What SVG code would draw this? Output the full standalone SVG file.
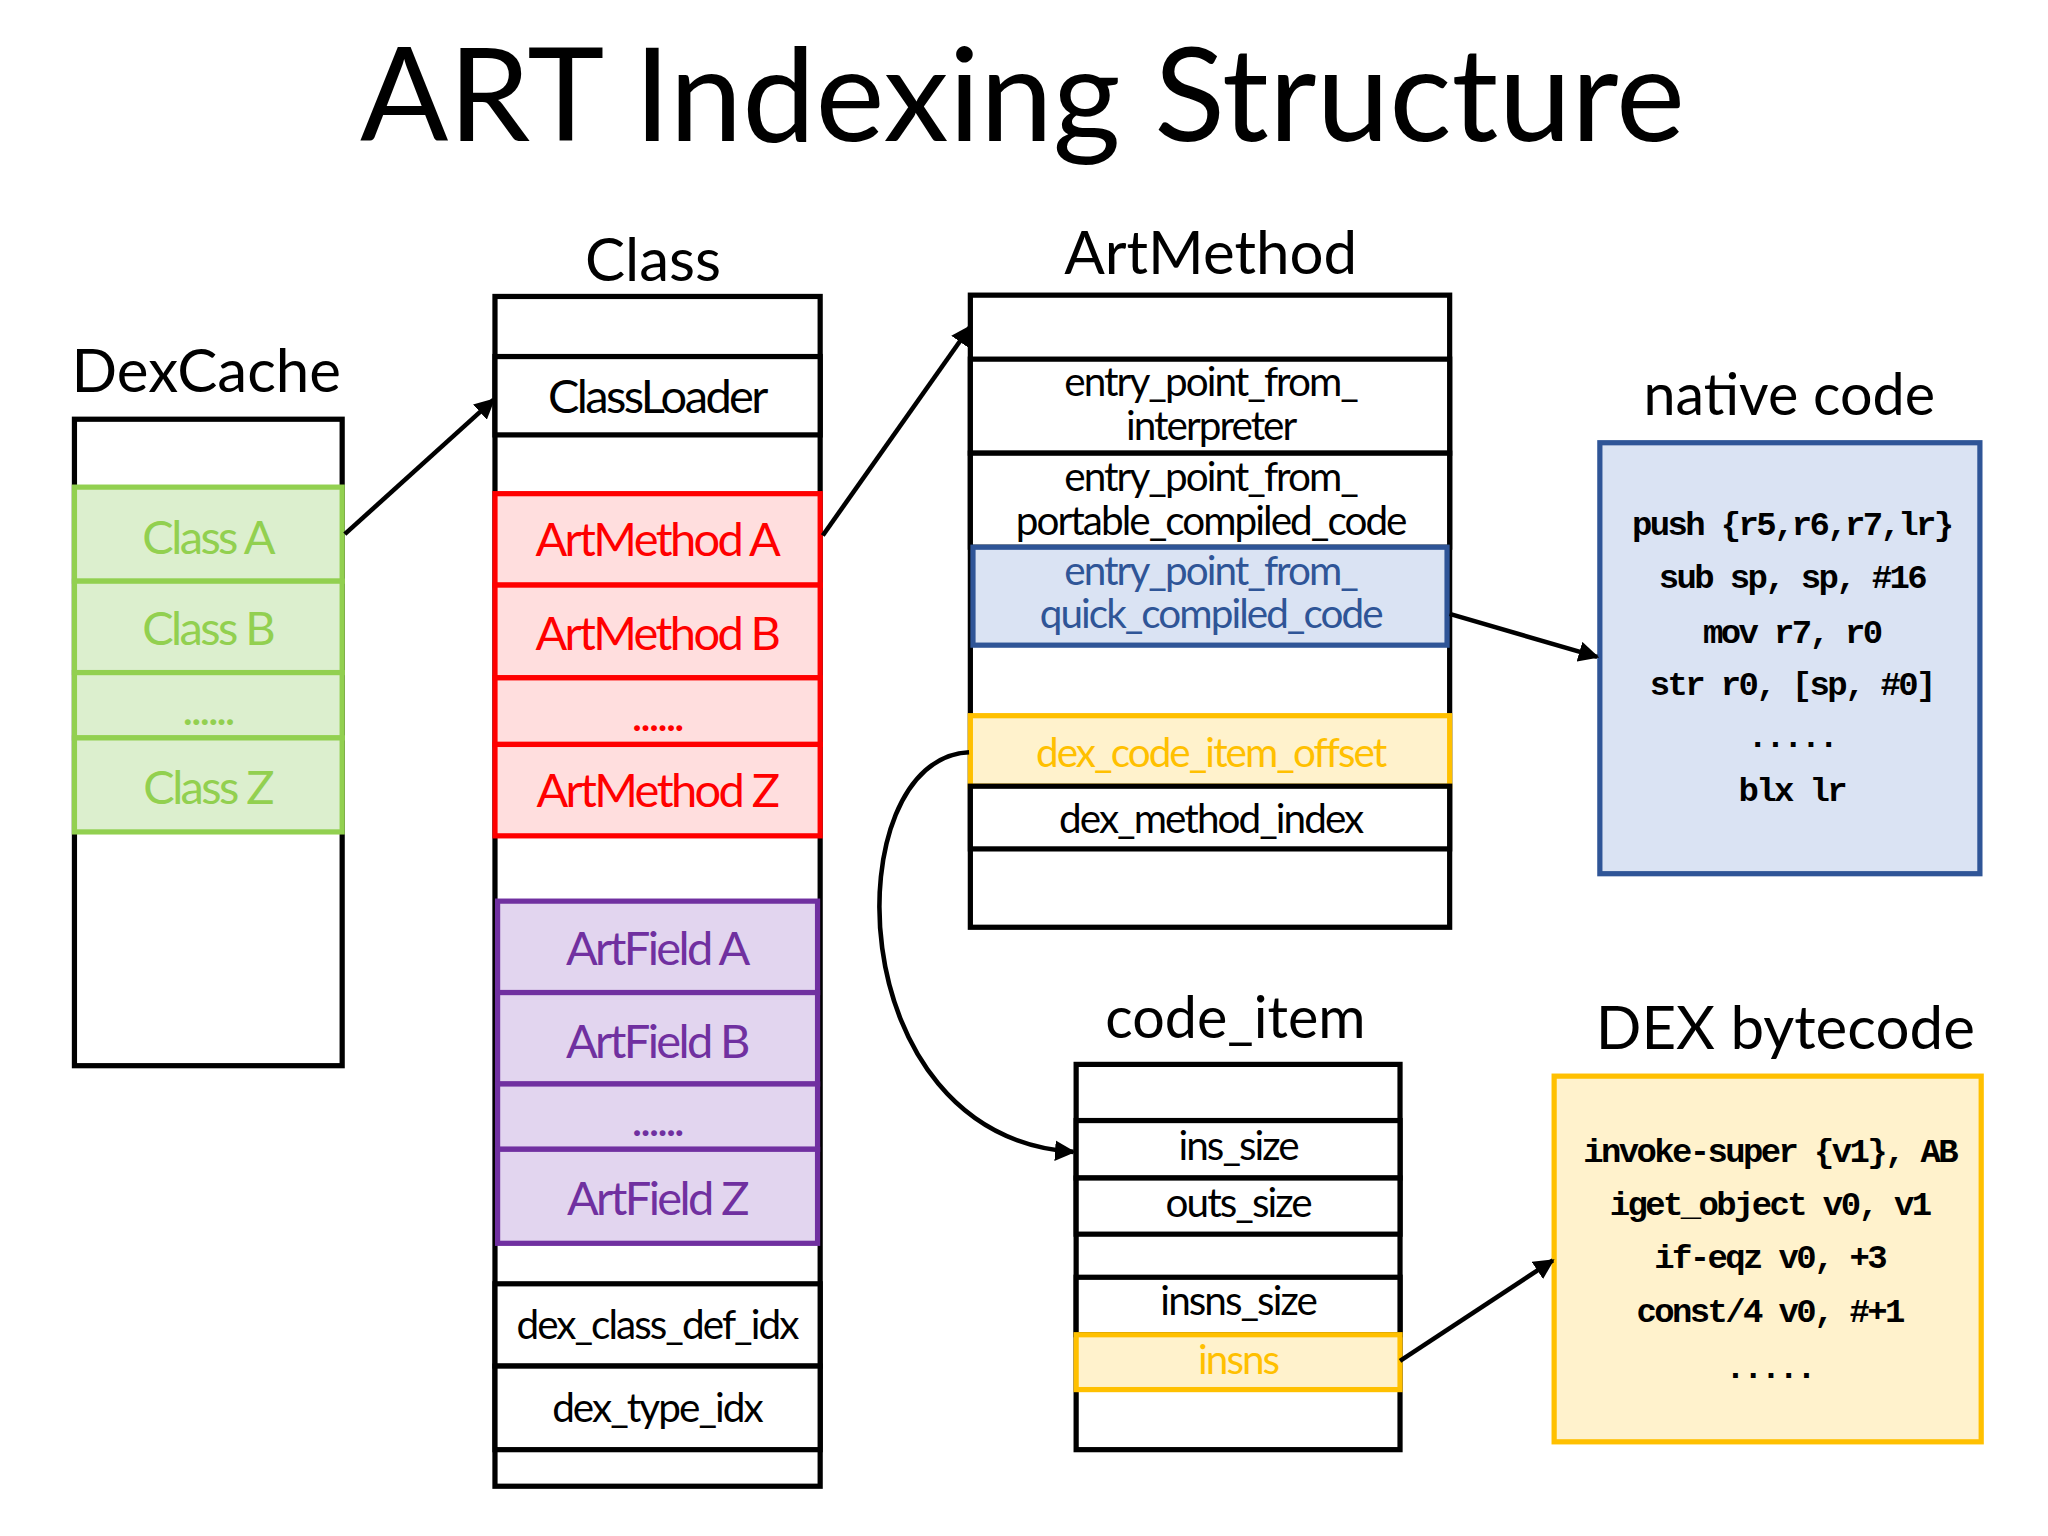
<svg xmlns="http://www.w3.org/2000/svg" width="2048" height="1536" viewBox="0 0 2048 1536">
<style>
.lbl{font-family:Lato,"Open Sans",sans-serif;fill:#000;text-anchor:middle}
.t{font-family:Lato,"Open Sans",sans-serif;font-size:36px;text-anchor:middle;letter-spacing:-2px}
.t.s{font-size:31px;letter-spacing:-1.5px}
.b{fill:#fff;stroke:#000;stroke-width:4}
.g{fill:#dcefce;stroke:#92d050;stroke-width:4}
.r{fill:#ffdede;stroke:#ff0000;stroke-width:4}
.p{fill:#e2d5ef;stroke:#7030a0;stroke-width:4}
.bl{fill:#dae3f3;stroke:#2f5597;stroke-width:4}
.y{fill:#fff2cc;stroke:#ffc000;stroke-width:4}
.code{font-family:"Liberation Mono",monospace;font-weight:bold;font-size:26px;text-anchor:middle;letter-spacing:-2px}
.c{fill:none;stroke:#000;stroke-width:3.5}
</style>
<defs><marker id="ah" viewBox="0 0 10 10" refX="9" refY="5" markerWidth="4.5" markerHeight="4.5" orient="auto"><path d="M0,0L10,5L0,10z" fill="#000"/></marker></defs>
<rect width="2048" height="1536" fill="#fff"/>
<g transform="scale(1.306)">
<text class="lbl" x="783" y="108" font-size="100">ART Indexing Structure</text>
<g id="dexcache">
<text class="lbl" x="158" y="300" font-size="46">DexCache</text>
<rect class="b" x="57" y="321" width="205" height="495"/>
<rect class="g" x="57" y="373" width="205" height="72"/>
<rect class="g" x="57" y="445" width="205" height="70"/>
<rect class="g" x="57" y="515" width="205" height="50"/>
<rect class="g" x="57" y="565" width="205" height="72"/>
<g fill="#92d050"><text class="t" x="159" y="424">Class A</text><text class="t" x="159" y="494">Class B</text><text class="t" x="159" y="555">......</text><text class="t" x="159" y="616">Class Z</text></g>
</g>
<g id="class">
<text class="lbl" x="500" y="215" font-size="46">Class</text>
<rect class="b" x="379" y="227" width="249" height="911"/>
<rect class="b" x="379" y="273" width="249" height="60"/>
<rect class="r" x="379" y="378" width="249" height="70"/>
<rect class="r" x="379" y="448" width="249" height="71"/>
<rect class="r" x="379" y="519" width="249" height="51"/>
<rect class="r" x="379" y="570" width="249" height="70"/>
<rect class="p" x="381" y="690" width="245" height="70"/>
<rect class="p" x="381" y="760" width="245" height="70"/>
<rect class="p" x="381" y="830" width="245" height="50"/>
<rect class="p" x="381" y="880" width="245" height="72"/>
<rect class="b" x="379" y="983" width="249" height="63"/>
<rect class="b" x="379" y="1046" width="249" height="64"/>
<text class="t" x="503" y="316">ClassLoader</text>
<g fill="#ff0000"><text class="t" x="503" y="426">ArtMethod A</text><text class="t" x="503" y="498">ArtMethod B</text><text class="t" x="503" y="560">......</text><text class="t" x="503" y="618">ArtMethod Z</text></g>
<g fill="#7030a0"><text class="t" x="503" y="739">ArtField A</text><text class="t" x="503" y="810">ArtField B</text><text class="t" x="503" y="870">......</text><text class="t" x="503" y="930">ArtField Z</text></g>
<text class="t s" x="503" y="1025">dex_class_def_idx</text>
<text class="t s" x="503" y="1089">dex_type_idx</text>
</g>
<g id="artmethod">
<text class="lbl" x="927" y="210" font-size="46">ArtMethod</text>
<rect class="b" x="743" y="226" width="367" height="484"/>
<rect class="b" x="743" y="275" width="367" height="72"/>
<rect class="b" x="743" y="347" width="367" height="72"/>
<rect class="bl" x="745" y="419" width="363" height="75"/>
<rect class="y" x="743" y="548" width="367" height="54"/>
<rect class="b" x="743" y="602" width="367" height="48"/>
<text class="t s" x="927" y="303">entry_point_from_</text><text class="t s" x="927" y="337">interpreter</text>
<text class="t s" x="927" y="376">entry_point_from_</text><text class="t s" x="927" y="410">portable_compiled_code</text>
<text class="t s" x="927" y="448" fill="#2f5597">entry_point_from_</text><text class="t s" x="927" y="481" fill="#2f5597">quick_compiled_code</text>
<text class="t s" x="927" y="587" fill="#ffc000">dex_code_item_offset</text>
<text class="t s" x="927" y="638">dex_method_index</text>
</g>
<g id="native">
<text class="lbl" x="1370" y="318" font-size="44">native code</text>
<rect class="bl" x="1225" y="339" width="291" height="330"/>
<g class="code"><text x="1372" y="410">push {r5,r6,r7,lr}</text><text x="1372" y="450">sub sp, sp, #16</text><text x="1372" y="492">mov r7, r0</text><text x="1372" y="532">str r0, [sp, #0]</text><text x="1372" y="572">.....</text><text x="1372" y="613">blx lr</text></g>
</g>
<g id="codeitem">
<text class="lbl" x="946" y="795" font-size="44">code_item</text>
<rect class="b" x="824" y="815" width="248" height="295"/>
<rect class="b" x="824" y="858" width="248" height="44"/>
<rect class="b" x="824" y="902" width="248" height="43"/>
<rect class="b" x="824" y="978" width="248" height="44"/>
<rect class="y" x="824" y="1022" width="248" height="42"/>
<text class="t s" x="948" y="888">ins_size</text><text class="t s" x="948" y="932">outs_size</text><text class="t s" x="948" y="1007">insns_size</text><text class="t s" x="948" y="1052" fill="#ffc000">insns</text>
</g>
<g id="dexbytecode">
<text class="lbl" x="1367" y="803" font-size="46">DEX bytecode</text>
<rect class="y" x="1190" y="824" width="327" height="280"/>
<g class="code"><text x="1355" y="890">invoke-super {v1}, AB</text><text x="1355" y="930">iget_object v0, v1</text><text x="1355" y="971">if-eqz v0, +3</text><text x="1355" y="1012">const/4 v0, #+1</text><text x="1355" y="1055">.....</text></g>
</g>
<g id="connectors">
<path class="c" d="M264,409L378,306" marker-end="url(#ah)"/>
<path class="c" d="M630,410L743,250" marker-end="url(#ah)"/>
<path class="c" d="M1110,470L1223,503" marker-end="url(#ah)"/>
<path class="c" d="M742,576C640,580 640,870 822,882" marker-end="url(#ah)"/>
<path class="c" d="M1072,1042L1189,965" marker-end="url(#ah)"/>
</g>
</g>
</svg>
